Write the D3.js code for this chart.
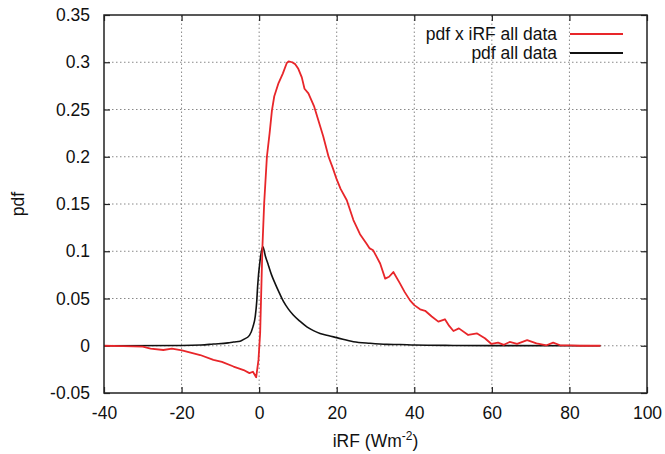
<!DOCTYPE html>
<html>
<head>
<meta charset="utf-8">
<script src="https://cdn.jsdelivr.net/npm/d3@7"></script>
<style>
  html, body { margin: 0; padding: 0; background: #fff; }
  text { font-family: "Liberation Sans", Arial, Helvetica, sans-serif; fill: #111; }
</style>
</head>
<body>
<svg id="chart" width="665" height="454"></svg>
<script>
// ---- data ----
const redX = [-40, -35, -30, -28, -24.7, -22.5, -19.9, -15.2, -11.8, -9.6, -6.6, -4, -2.5, -1.6, -0.77, -0.17, 0.26, 0.85, 1.3, 2.0, 2.7, 3.3, 3.9, 5.0, 6.1, 7.1, 7.6, 8.5, 9.3, 10.1, 11, 11.7, 12.7, 14.2, 15.3, 16.5, 17.9, 19, 20, 21, 22.6, 24.3, 26, 27.7, 28.5, 29.4, 30.3, 31.2, 32.5, 33.5, 34.6, 36.3, 37.5, 38.9, 40, 41.5, 42.8, 44.5, 46.2, 47.9, 49, 50.1, 51.5, 53.9, 56.2, 58.2, 59.9, 61.6, 63.1, 64.6, 66.5, 69.1, 71.5, 74.1, 75.8, 77.6, 80.2, 82.7, 88];
const redY = [0, -0.0005, -0.001, -0.003, -0.0045, -0.003, -0.005, -0.0098, -0.015, -0.017, -0.022, -0.0257, -0.029, -0.0275, -0.0334, -0.015, 0.0135, 0.105, 0.151, 0.2, 0.225, 0.249, 0.264, 0.278, 0.288, 0.299, 0.301, 0.3, 0.298, 0.293, 0.284, 0.272, 0.267, 0.253, 0.238, 0.222, 0.2, 0.188, 0.176, 0.166, 0.154, 0.133, 0.118, 0.108, 0.103, 0.101, 0.094, 0.087, 0.071, 0.073, 0.078, 0.066, 0.057, 0.048, 0.043, 0.0386, 0.037, 0.031, 0.0255, 0.028, 0.021, 0.0156, 0.0184, 0.0114, 0.013, 0.0079, 0.0019, 0.0033, 0.001, 0.004, 0.002, 0.006, 0.0026, 0.0005, 0.0033, 0.0005, 0.0005, 0, 0];
const blackX = [-40, -20, -15, -11.8, -8, -6.6, -4.9, -4, -2.5, -1.6, -1, -0.6, -0.4, 0.26, 0.95, 1.6, 2.4, 3.2, 4.1, 5.2, 6.3, 7.5, 8.8, 10.5, 12.3, 14, 15.7, 18, 20, 24.3, 28.6, 32.9, 36.3, 40, 50, 60, 88];
const blackY = [0, 0.0003, 0.0008, 0.0018, 0.003, 0.004, 0.0048, 0.0067, 0.011, 0.02, 0.031, 0.048, 0.0625, 0.091, 0.105, 0.095, 0.085, 0.075, 0.066, 0.056, 0.0466, 0.039, 0.0325, 0.026, 0.020, 0.016, 0.013, 0.0105, 0.0086, 0.0043, 0.0026, 0.0015, 0.0013, 0.0008, 0.0003, 0.0001, 0];
const xTicks = [-40, -20, 0, 20, 40, 60, 80, 100];
const yTicks = [-0.05, 0, 0.05, 0.1, 0.15, 0.2, 0.25, 0.3, 0.35];
const seriesNames = ["pdf x iRF all data", "pdf all data"];
const seriesColors = ["#e8262a", "#111111"];

// ---- layout ----
const svg = d3.select("#chart");
const W = 665, H = 454;
const m = { left: 104, top: 15, right: 18, bottom: 61 };
const x = d3.scaleLinear().domain([-40, 100]).range([m.left, W - m.right]);
const y = d3.scaleLinear().domain([-0.05, 0.35]).range([H - m.bottom, m.top]);

// grid
const grid = svg.append("g");
grid.selectAll(".gx").data(xTicks.slice(1, -1)).enter().append("line")
  .attr("x1", d => x(d)).attr("x2", d => x(d))
  .attr("y1", y(-0.05)).attr("y2", y(0.35))
  .attr("stroke", "#888").attr("stroke-width", 1).attr("stroke-dasharray", "1.5,2.5");
grid.selectAll(".gy").data(yTicks.slice(1, -1)).enter().append("line")
  .attr("x1", x(-40)).attr("x2", x(100))
  .attr("y1", d => y(d)).attr("y2", d => y(d))
  .attr("stroke", "#888").attr("stroke-width", 1).attr("stroke-dasharray", "1.5,2.5");

// axes (plain hyphen for minus, like the original)
const fmtX = d => String(d);
const fmtY = d => String(+d.toFixed(2));
const axB = svg.append("g").attr("transform", `translate(0,${H - m.bottom})`)
  .call(d3.axisBottom(x).tickValues(xTicks).tickSize(-6).tickPadding(14).tickFormat(fmtX));
const axT = svg.append("g").attr("transform", `translate(0,${m.top})`)
  .call(d3.axisTop(x).tickValues(xTicks).tickSize(-6).tickFormat(""));
const axL = svg.append("g").attr("transform", `translate(${m.left},0)`)
  .call(d3.axisLeft(y).tickValues(yTicks).tickSize(-6).tickPadding(14).tickFormat(fmtY));
const axR = svg.append("g").attr("transform", `translate(${W - m.right},0)`)
  .call(d3.axisRight(y).tickValues(yTicks).tickSize(-6).tickFormat(""));
[axB, axT, axL, axR].forEach(a => {
  a.select(".domain").remove();
  a.selectAll(".tick line").attr("stroke", "#222").attr("stroke-width", 1.2);
  a.selectAll("text").style("font-family", "'Liberation Sans', Arial, sans-serif").style("font-size", "17.5px").attr("fill", "#111");
});
axB.selectAll("text").attr("dy", "0.71em");

// lines
const redData = redX.map((v, i) => [v, redY[i]]);
const blackData = blackX.map((v, i) => [v, blackY[i]]);
svg.append("path").datum(blackData)
  .attr("d", d3.line().x(d => x(d[0])).y(d => y(d[1])).curve(d3.curveMonotoneX))
  .attr("fill", "none").attr("stroke", seriesColors[1]).attr("stroke-width", 1.6);
svg.append("path").datum(redData)
  .attr("d", d3.line().x(d => x(d[0])).y(d => y(d[1])))
  .attr("fill", "none").attr("stroke", seriesColors[0]).attr("stroke-width", 1.8).attr("stroke-linejoin", "round");

// frame
svg.append("rect").attr("x", x(-40)).attr("y", y(0.35))
  .attr("width", x(100) - x(-40)).attr("height", y(-0.05) - y(0.35))
  .attr("fill", "none").attr("stroke", "#222").attr("stroke-width", 1.5);

// legend
const leg = svg.append("g");
seriesNames.forEach((n, i) => {
  const ly = 34 + i * 19;
  leg.append("text").attr("x", 557).attr("y", ly).attr("dy", "0.35em")
    .attr("text-anchor", "end").style("font-size", "17.5px").text(n);
  leg.append("line").attr("x1", 570).attr("x2", 623).attr("y1", ly).attr("y2", ly)
    .attr("stroke", seriesColors[i]).attr("stroke-width", 1.8);
});

// axis titles
const xt = svg.append("text").attr("x", x(30)).attr("y", 447).attr("text-anchor", "middle")
  .style("font-size", "17.5px");
xt.append("tspan").text("iRF (Wm");
xt.append("tspan").attr("dy", -7).style("font-size", "12px").text("-2");
xt.append("tspan").attr("dy", 7).text(")");
svg.append("text").attr("transform", `translate(24,${y(0.15)}) rotate(-90)`)
  .attr("text-anchor", "middle").style("font-size", "17.5px").text("pdf");
</script>
</body>
</html>
